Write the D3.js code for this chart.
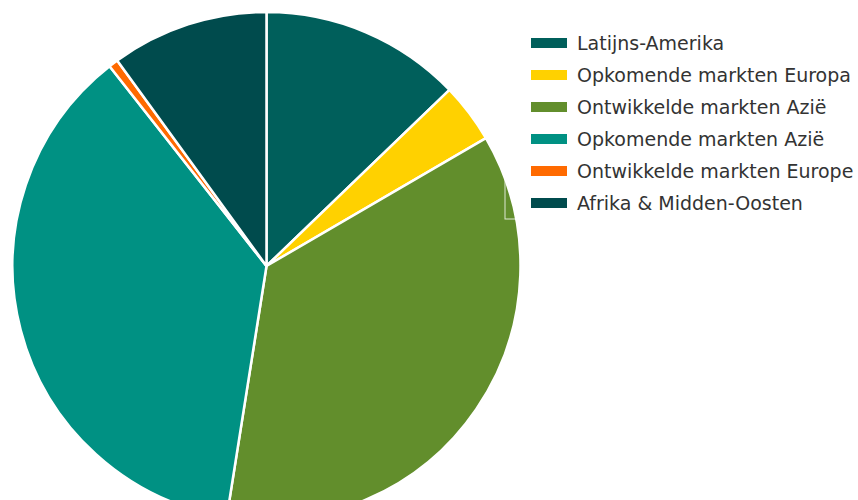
<!DOCTYPE html>
<html>
<head>
<meta charset="utf-8">
<script src="https://cdn.jsdelivr.net/npm/d3@7"></script>
<style>
  html, body { margin: 0; padding: 0; background: #fff; }
  svg { display: block; }
</style>
</head>
<body>
<svg id="chart" width="858" height="500"></svg>
<script>
// Regions and their share (%)
const regions = [
    "Latijns-Amerika",
    "Opkomende markten Europa",
    "Ontwikkelde markten Azië",
    "Opkomende markten Azië",
    "Ontwikkelde markten Europe",
    "Afrika & Midden-Oosten"
];
const shares = [12.8, 3.8, 35.9, 36.9, 0.6, 10.0];
const colors = ["#005f5b", "#ffd100", "#628e2c", "#009183", "#ff6a00", "#004b4d"];

const svg = d3.select("#chart");
const cx = 266.5, cy = 266, radius = 254;

const data = regions.map((name, i) => ({ name, value: shares[i] }));

const color = d3.scaleOrdinal().domain(regions).range(colors);

const pie = d3.pie().sort(null).value(d => d.value);
const arc = d3.arc().innerRadius(0).outerRadius(radius);

const g = svg.append("g").attr("transform", `translate(${cx},${cy})`);

g.selectAll("path")
    .data(pie(data))
    .enter().append("path")
    .attr("d", arc)
    .attr("fill", d => color(d.data.name))
    .attr("stroke", "#fff")
    .attr("stroke-width", 2.5)
    .attr("stroke-linejoin", "round");

// leftover hover box outline
svg.append("rect")
    .attr("x", 505).attr("y", 177)
    .attr("width", 14).attr("height", 42)
    .attr("fill", "none")
    .attr("stroke", "#fff")
    .attr("stroke-opacity", 0.8)
    .attr("stroke-width", 1);

// Legend
const legend = svg.append("g").attr("transform", "translate(531,43)");
const item = legend.selectAll("g")
    .data(regions)
    .enter().append("g")
    .attr("transform", (d, i) => `translate(0,${i * 32})`);

item.append("rect")
    .attr("x", 0).attr("y", -5)
    .attr("width", 36).attr("height", 10)
    .attr("fill", d => color(d));

item.append("text")
    .attr("x", 46)
    .attr("y", 0)
    .attr("dy", "0.35em")
    .attr("font-family", "'DejaVu Sans', sans-serif")
    .attr("font-size", 19)
    .attr("fill", "#333")
    .text(d => d);
</script>
</body>
</html>
